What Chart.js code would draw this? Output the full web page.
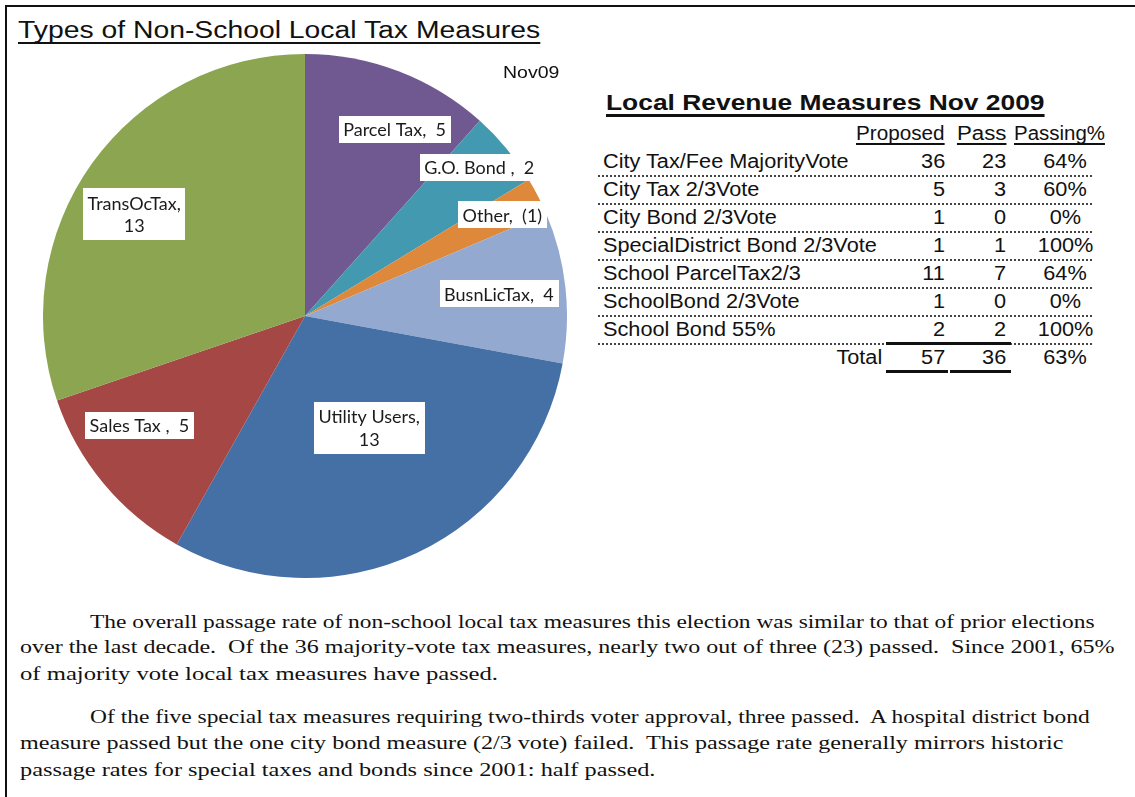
<!DOCTYPE html>
<html><head><meta charset="utf-8">
<script src="https://cdn.jsdelivr.net/npm/chart.js@4.4.1/dist/chart.umd.min.js"></script>
<style>
html,body{margin:0;padding:0;background:#fff;}
#page{position:relative;width:1135px;height:797px;overflow:hidden;background:#fff;color:#111;}
.t{position:absolute;white-space:pre;}
.hl{position:absolute;height:0;}
#pie{position:absolute;left:43px;top:54px;}
</style></head>
<body><div id="page"><canvas id="pie" width="524" height="524"></canvas></div>
<script>
// ---- pie data ----
const categories = ["Parcel Tax", "G.O. Bond ", "Other", "BusnLicTax", "Utility Users", "Sales Tax ", "TransOcTax"];
const measureCounts = [5, 2, 1, 4, 13, 5, 13];
const sliceLabels = ["Parcel Tax,  5", "G.O. Bond ,  2", "Other,  (1)", "BusnLicTax,  4", "Utility Users,\n13", "Sales Tax ,  5", "TransOcTax,\n13"];
// ---- table data ----
const tableRowLabels = ["City Tax/Fee MajorityVote", "City Tax 2/3Vote", "City Bond 2/3Vote", "SpecialDistrict Bond 2/3Vote", "School ParcelTax2/3", "SchoolBond 2/3Vote", "School Bond 55%"];
const proposedCounts = [36, 5, 1, 1, 11, 1, 2];
const passCounts = [23, 3, 0, 1, 7, 0, 2];
const passingRates = ["64%", "60%", "0%", "100%", "64%", "0%", "100%"];
const tableHeaders = ["Proposed", "Pass", "Passing%"];
const totalRow = ["Total", "57", "36", "63%"];
// ---- text ----
const chartTitle = "Types of Non-School Local Tax Measures";
const chartSubtitle = "Nov09";
const tableTitle = "Local Revenue Measures Nov 2009";
const bodyLines = [
  "The overall passage rate of non-school local tax measures this election was similar to that of prior elections",
  "over the last decade.  Of the 36 majority-vote tax measures, nearly two out of three (23) passed.  Since 2001, 65%",
  "of majority vote local tax measures have passed.",
  "Of the five special tax measures requiring two-thirds voter approval, three passed.  A hospital district bond",
  "measure passed but the one city bond measure (2/3 vote) failed.  This passage rate generally mirrors historic",
  "passage rates for special taxes and bonds since 2001: half passed."
];

// ---- styles (not data) ----
const sliceColors = ["#6F5990", "#4299B0", "#DD883A", "#94A9D0", "#4570A6", "#A54745", "#8BA550"];
const labelRadiusFrac = [0.79, 0.874, 0.847, 0.745, 0.491, 0.757, 0.759];
const labelAngleShift = [4.7, -0.7, 0, -0.3, -4.8, 6.4, -4.8];

const page = document.getElementById('page');
function put(text, o){
  const d = document.createElement('div');
  d.className = 't';
  d.textContent = text;
  const fam = o.serif ? '"Liberation Serif", "Times New Roman", serif' : '"Liberation Sans", Arial, sans-serif';
  const asc = o.serif ? 0.8375 : 0.8465;
  d.style.fontFamily = fam;
  d.style.fontSize = o.size + 'px';
  d.style.lineHeight = o.size + 'px';
  d.style.top = (o.base - asc * o.size) + 'px';
  d.style.fontWeight = o.bold ? '700' : '400';
  d.style.color = '#111';
  if (o.underline) {
    d.style.textDecoration = 'underline';
    d.style.textDecorationThickness = o.ulw + 'px';
    d.style.textUnderlineOffset = o.ulo + 'px';
    d.style.textDecorationSkipInk = 'none';
  }
  page.appendChild(d);
  const w = d.offsetWidth;
  let s = o.scale || 1;
  if (o.width) s = o.width / w;
  const align = o.align || 'left';
  if (align === 'left') { d.style.left = o.x + 'px'; d.style.transformOrigin = '0 0'; }
  else if (align === 'right') { d.style.left = (o.x - w) + 'px'; d.style.transformOrigin = '100% 0'; }
  else { d.style.left = (o.x - w / 2) + 'px'; d.style.transformOrigin = '50% 0'; }
  d.style.transform = 'scaleX(' + s + ')';
  return d;
}
function line(x1, x2, y, h, style){
  const d = document.createElement('div');
  d.className = 'hl';
  d.style.left = x1 + 'px';
  d.style.width = (x2 - x1) + 'px';
  d.style.top = y + 'px';
  if (style === 'dotted') { d.style.borderTop = h + 'px dotted #444'; }
  else { d.style.height = h + 'px'; d.style.background = '#111'; }
  page.appendChild(d);
}

// frame
line(5, 1135, 5, 2, 'solid');
(function(){ const d = document.createElement('div'); d.className='hl'; Object.assign(d.style,{left:'5px',top:'5px',width:'2px',height:'792px',background:'#111'}); page.appendChild(d); })();

// titles
put(chartTitle, {x:18, base:38.5, size:23.5, width:522, underline:true, ulw:2, ulo:3.5});
put(chartSubtitle, {x:503, base:79, size:16, width:56});
put(tableTitle, {x:606, base:111, size:22, bold:true, width:439, underline:true, ulw:3, ulo:4});

// table
const tScale = 1.085, tSize = 20;
const colProposedRight = 945, colPassRight = 1006, colRateCenter = 1065;
put(tableHeaders[0], {x:colProposedRight, base:140, size:tSize, width:89, align:'right', underline:true, ulw:2, ulo:2.5});
put(tableHeaders[1], {x:colPassRight, base:140, size:tSize, width:49, align:'right', underline:true, ulw:2, ulo:2.5});
put(tableHeaders[2], {x:1014, base:140, size:tSize, width:91, underline:true, ulw:2, ulo:2.5});
tableRowLabels.forEach((lab, i) => {
  const b = 168 + i * 28;
  put(lab, {x:603, base:b, size:tSize, scale:tScale});
  put(String(proposedCounts[i]), {x:colProposedRight, base:b, size:tSize, scale:tScale, align:'right'});
  put(String(passCounts[i]), {x:colPassRight, base:b, size:tSize, scale:tScale, align:'right'});
  put(passingRates[i], {x:colRateCenter, base:b, size:tSize, scale:tScale, align:'center'});
  line(598, 1092, b + 7, 2, 'dotted');
});
const lastB = 168 + 6 * 28;
line(886, 1011, lastB + 6, 3, 'solid');
const totB = lastB + 28;
put(totalRow[0], {x:882, base:totB, size:tSize, scale:tScale, align:'right'});
put(totalRow[1], {x:colProposedRight, base:totB, size:tSize, scale:tScale, align:'right'});
put(totalRow[2], {x:colPassRight, base:totB, size:tSize, scale:tScale, align:'right'});
put(totalRow[3], {x:colRateCenter, base:totB, size:tSize, scale:tScale, align:'center'});
line(886, 948, totB + 6, 3, 'solid');
line(950, 1011, totB + 6, 3, 'solid');

// body paragraphs
const bodyX = [90, 20, 20, 90, 20, 20];
const bodyW = [1005, 1095, 478, 1000, 1043, 636];
const bodyBase = [628, 653, 680, 723, 749, 776];
bodyLines.forEach((t, i) => put(t, {x:bodyX[i], base:bodyBase[i], size:19.5, serif:true, width:bodyW[i]}));

// pie
const sliceLabelPlugin = {
  id: 'sliceLabels',
  afterDatasetsDraw(chart){
    const ctx = chart.ctx;
    const meta = chart.getDatasetMeta(0);
    ctx.save();
    ctx.font = '18px Lato, "Open Sans", sans-serif';
    ctx.textAlign = 'center';
    ctx.textBaseline = 'alphabetic';
    meta.data.forEach((arc, i) => {
      const p = arc.getProps(['x','y','startAngle','endAngle','outerRadius'], true);
      const a = (p.startAngle + p.endAngle) / 2 + labelAngleShift[i] * Math.PI / 180;
      const r = p.outerRadius * labelRadiusFrac[i];
      const cx = p.x + Math.cos(a) * r, cy = p.y + Math.sin(a) * r;
      const lines = sliceLabels[i].split('\n');
      const lh = 22.5;
      const w = Math.max(...lines.map(l => ctx.measureText(l).width)) + 9;
      const h = lines.length === 1 ? 27 : 52;
      ctx.fillStyle = '#fff';
      ctx.fillRect(Math.round(cx - w / 2), Math.round(cy - h / 2), Math.round(w), h);
      ctx.fillStyle = '#1b1b1b';
      const first = cy - (lines.length - 1) * lh / 2 + 7;
      lines.forEach((l, k) => ctx.fillText(l, cx, first + k * lh));
    });
    ctx.restore();
  }
};

function drawPie(){
  new Chart(document.getElementById('pie'), {
    type: 'pie',
    data: {
      labels: categories,
      datasets: [{ data: measureCounts, backgroundColor: sliceColors, borderWidth: 0, hoverOffset: 0 }]
    },
    options: {
      responsive: false,
      animation: false,
      layout: { padding: 0 },
      plugins: { legend: { display: false }, tooltip: { enabled: false }, title: { display: false } }
    },
    plugins: [sliceLabelPlugin]
  });
}
if (document.fonts && document.fonts.load) {
  document.fonts.load('18px Lato').then(drawPie, drawPie);
} else { drawPie(); }
</script>
</body></html>
